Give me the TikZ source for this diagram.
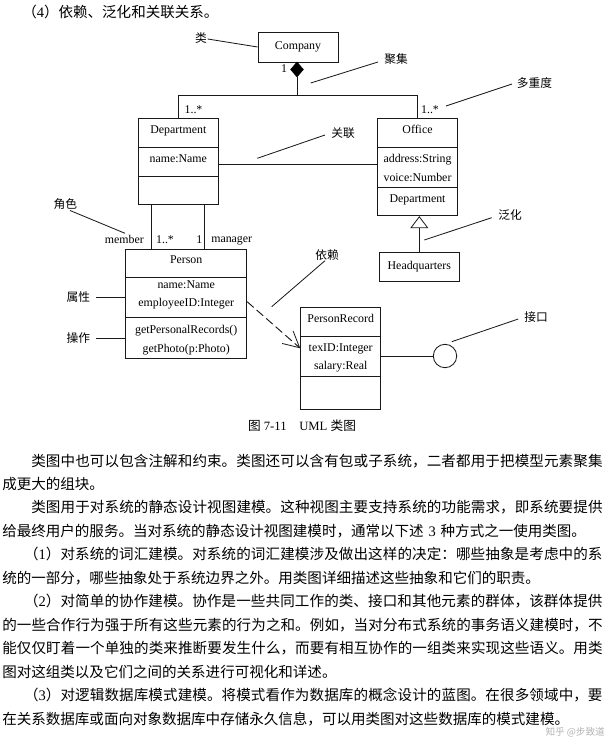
\documentclass[tikz,border=0pt]{standalone}
\usepackage{fontspec}
\setmainfont{Liberation Serif}
\newfontfamily\cjk{Noto Sans CJK SC}
\usetikzlibrary{arrows.meta,shapes.geometric}
\XeTeXlinebreaklocale "zh"
\XeTeXlinebreakskip=0pt plus 1pt
\begin{document}
\begin{tikzpicture}[x=0.75pt,y=-0.75pt,
  ln/.style={line width=0.62pt, draw=black!90},
  classbox/.style={draw=black!90, line width=0.65pt, inner sep=0pt},
  sz/.style 2 args={minimum width=#1*0.75pt, minimum height=#2*0.75pt},
  lt/.style={font=\fontsize{8.9pt}{10pt}\selectfont, inner sep=0pt, text height=6pt, text depth=1.8pt},
  cl/.style={font=\cjk\fontsize{8.8pt}{10pt}\selectfont, inner sep=0pt},
]
\useasboundingbox (0,0) rectangle (607,737);

% heading
\node[anchor=base west, inner sep=0pt, font=\cjk\fontsize{10.9pt}{13pt}\selectfont] (head) at (22,17.5) {（{\rmfamily 4}）依赖、泛化和关联关系。};

% classes
\node[classbox, sz={80}{30}, lt] (company) at (298,47) {Company};

\node[classbox, sz={80}{86}] (dept) at (178.3,161.3) {};
\draw[ln] (dept.west |- 0,147.3) -- (dept.east |- 0,147.3);
\draw[ln] (dept.west |- 0,176) -- (dept.east |- 0,176);
\node[lt] (dept1) at (178.3,131) {Department};
\node[lt] (dept2) at (178.3,160) {name:Name};

\node[classbox, sz={79.6}{97.4}] (office) at (417.5,167) {};
\draw[ln] (office.west |- 0,147.7) -- (office.east |- 0,147.7);
\draw[ln] (office.west |- 0,187.3) -- (office.east |- 0,187.3);
\node[lt] (off1) at (417.5,130.7) {Office};
\node[lt] (off2) at (417.5,160) {address:String};
\node[lt] (off3) at (417.5,178.3) {voice:Number};
\node[lt] (off4) at (417.5,199.3) {Department};

\node[classbox, sz={80}{28.3}, lt] (hq) at (419.3,266.9) {Headquarters};

\node[classbox, sz={121}{109.3}] (person) at (186.2,303.7) {};
\draw[ln] (person.west |- 0,277.7) -- (person.east |- 0,277.7);
\draw[ln] (person.west |- 0,317.7) -- (person.east |- 0,317.7);
\node[lt] (per1) at (186.2,260.7) {Person};
\node[lt] (per2) at (186.2,285.7) {name:Name};
\node[lt] (per3) at (186.2,303.7) {employeeID:Integer};
\node[lt] (per4) at (186.2,330.7) {getPersonalRecords()};
\node[lt] (per5) at (186.2,349.3) {getPhoto(p:Photo)};

\node[classbox, sz={80}{101.6}] (pr) at (340.7,358.5) {};
\draw[ln] (pr.west |- 0,336.7) -- (pr.east |- 0,336.7);
\draw[ln] (pr.west |- 0,376.7) -- (pr.east |- 0,376.7);
\node[lt] (pr1) at (340.7,319.3) {PersonRecord};
\node[lt] (pr2) at (340.7,349) {texID:Integer};
\node[lt] (pr3) at (340.7,366.7) {salary:Real};

\node[circle, draw=black!90, line width=0.65pt, minimum size=23.4*0.75pt, inner sep=0pt] (iface) at (445,356) {};

% aggregation / composition
\node[diamond, fill=black, draw=black, inner sep=0pt, aspect=0.87, sz={13}{15}] (dia) at (297,69.5) {};
\coordinate (jn) at (297,95);
\draw[ln] (dia.south) -- (jn);
\draw[ln] (jn) -| (dept.north);
\draw[ln] (jn) -| (office.north);

% association
\draw[ln] (dept.east |- 0,164) -- (office.west |- 0,164);
\draw[ln] (dept.south -| 151.7,0) -- (person.north -| 151.7,0);
\draw[ln] (dept.south -| 204.3,0) -- (person.north -| 204.3,0);

% generalization
\draw[ln, -{Triangle[open, width=13.5pt, length=9pt, line width=0.6pt]}] (hq.north) -- (hq.north |- office.south);

% dependency
\draw[ln, line width=0.7pt, dash pattern=on 6.5pt off 3pt, -{Straight Barb[length=12pt, width=12.5pt, line width=0.6pt]}] (person.east |- 0,301.7) -- (pr.west |- 0,348.3);

% interface
\draw[ln] (pr.east |- iface) -- (iface.west);

% multiplicities and roles
\node[lt] (m1) at (284,70) {1};
\node[lt] (m2) at (193.5,110.7) {1..*};
\node[lt] (m3) at (430,111) {1..*};
\node[lt, anchor=east] (m4) at (144,240.5) {member};
\node[lt] (m5) at (165,240.3) {1..*};
\node[lt] (m6) at (199.3,240.3) {1};
\node[lt, anchor=west] (m7) at (211,239.8) {manager};

% annotations
\node[cl] (a1) at (201,38) {类};
\node[cl] (a2) at (396,59) {聚集};
\node[cl] (a3) at (534.5,83) {多重度};
\node[cl] (a4) at (343,133) {关联};
\node[cl] (a5) at (510,215) {泛化};
\node[cl] (a6) at (65.3,204.3) {角色};
\node[cl] (a7) at (78.3,296.7) {属性};
\node[cl] (a8) at (78.3,338.3) {操作};
\node[cl] (a9) at (327,255) {依赖};
\node[cl] (a10) at (536.2,316.7) {接口};

\coordinate (p2) at (310.7,83);   \coordinate (q2) at (378,62);
\coordinate (p3) at (446,106);    \coordinate (q3) at (512,84);
\coordinate (p4) at (257.3,158.3);\coordinate (q4) at (325,135);
\coordinate (p5) at (424.3,240);  \coordinate (q5) at (491.7,217.7);
\coordinate (p6) at (125,233.3);  \coordinate (q6) at (70,210.5);
\coordinate (p9) at (271.7,306.7);\coordinate (q9) at (325,260.7);
\coordinate (p10) at (451.7,341.7);\coordinate (q10) at (518.3,319);
\coordinate (q1) at (207.7,39);
\coordinate (q7) at (96,297);     \coordinate (q8) at (96,338.3);

\draw[ln] (q1) -- (company.west);
\draw[ln] (q2) -- (p2);
\draw[ln] (q3) -- (p3);
\draw[ln] (q4) -- (p4);
\draw[ln] (q5) -- (p5);
\draw[ln] (q6) -- (p6);
\draw[ln] (q7) -- (person.west |- q7);
\draw[ln] (q8) -- (person.west |- q8);
\draw[ln] (q9) -- (p9);
\draw[ln] (q10) -- (p10);

% caption
\node[anchor=base, inner sep=0pt, font=\fontsize{9.5pt}{11pt}\selectfont] (cap) at (302,430) {{\cjk 图} 7-11\quad UML {\cjk 类图}};

% body text
\node[anchor=base west, inner sep=0pt, text width=452.25pt, font=\cjk\fontsize{10.9pt}{17.61pt}\selectfont] (body) at (2,466) {\parindent=0pt\parskip=0pt\lineskiplimit=-20pt%
\hspace*{2em}类图中也可以包含注解和约束。类图还可以含有包或子系统，二者都用于把模型元素聚集\penalty-10000 成更大的组块。\par
\hspace*{2em}类图用于对系统的静态设计视图建模。这种视图主要支持系统的功能需求，即系统要提供\penalty-10000 给最终用户的服务。当对系统的静态设计视图建模时，通常以下述 {\rmfamily 3} 种方式之一使用类图。\par
\hspace*{1.5em}（{\rmfamily 1}）对系统的词汇建模。对系统的词汇建模涉及做出这样的决定：哪些抽象是考虑中的系\penalty-10000 统的一部分，哪些抽象处于系统边界之外。用类图详细描述这些抽象和它们的职责。\par
\hspace*{1.5em}（{\rmfamily 2}）对简单的协作建模。协作是一些共同工作的类、接口和其他元素的群体，该群体提供\penalty-10000 的一些合作行为强于所有这些元素的行为之和。例如，当对分布式系统的事务语义建模时，不\penalty-10000 能仅仅盯着一个单独的类来推断要发生什么，而要有相互协作的一组类来实现这些语义。用类\penalty-10000 图对这组类以及它们之间的关系进行可视化和详述。\par
\hspace*{1.5em}（{\rmfamily 3}）对逻辑数据库模式建模。将模式看作为数据库的概念设计的蓝图。在很多领域中，要\penalty-10000 在关系数据库或面向对象数据库中存储永久信息，可以用类图对这些数据库的模式建模。\par};

% watermark
\node[anchor=base east, inner sep=0pt, font=\cjk\fontsize{7.2pt}{8pt}\selectfont, text=black!30] (wm) at (605,735.5) {知乎 @步致道};
\end{tikzpicture}
\end{document}
